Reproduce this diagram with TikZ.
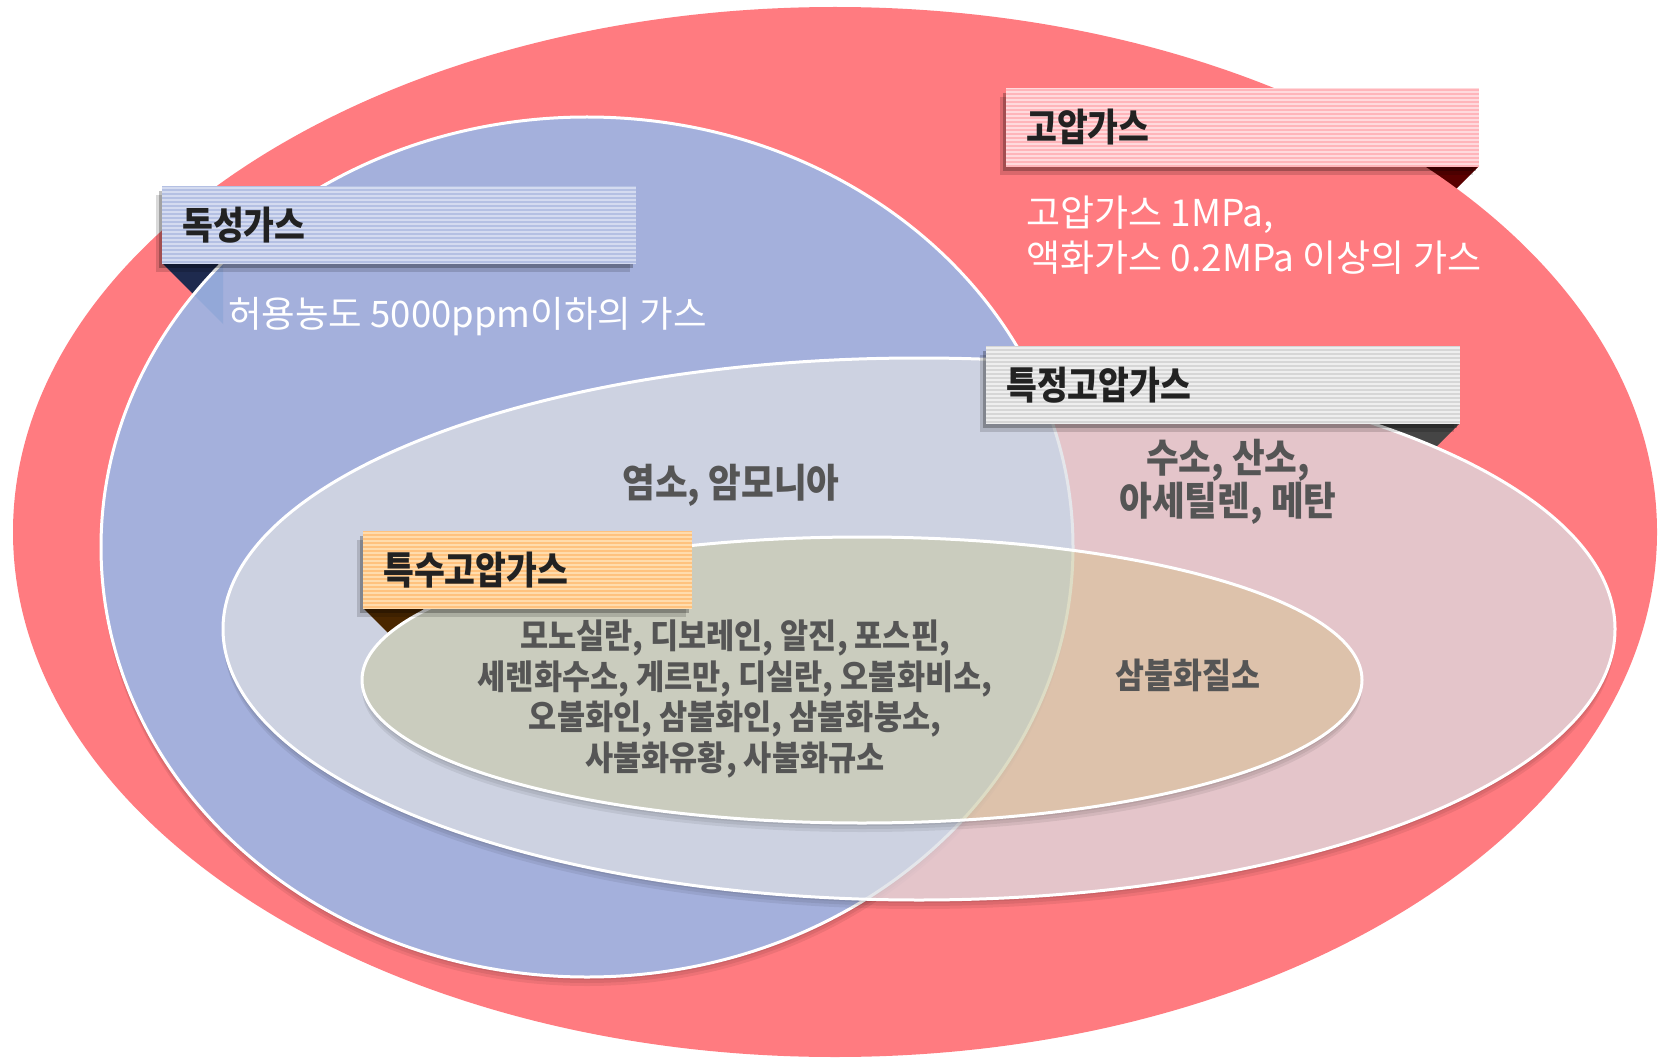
\documentclass[tikz,border=0pt]{standalone}
\usepackage{fontspec}
\setmainfont{Noto Sans CJK KR}
\newfontfamily\krn{Noto Sans CJK KR}[FakeStretch=0.9]
\newfontfamily\krl{Noto Sans CJK KR}[FakeStretch=0.87]
\usetikzlibrary{shadows}
\definecolor{redE}{HTML}{FF7B80}
\definecolor{blueE}{HTML}{A4B0DC}
\definecolor{grayE}{HTML}{DCDEE4}
\definecolor{oliveE}{HTML}{C1B732}
\definecolor{txtD}{HTML}{222222}
\definecolor{txtG}{HTML}{555555}
\definecolor{pinkA}{HTML}{FFDADD}
\definecolor{pinkB}{HTML}{FFB5BA}
\definecolor{bluA}{HTML}{B4C0E3}
\definecolor{bluB}{HTML}{D4DBF0}
\definecolor{gryA}{HTML}{D6D6D6}
\definecolor{gryB}{HTML}{EEEEEE}
\definecolor{orgA}{HTML}{FFC27E}
\definecolor{orgB}{HTML}{FFDCAD}
\definecolor{foldR}{HTML}{5A0000}
\definecolor{foldN}{HTML}{1E2A4E}
\definecolor{foldL}{HTML}{93A8D8}
\definecolor{foldG}{HTML}{454545}
\definecolor{foldO}{HTML}{4A2700}
\begin{document}
\begin{tikzpicture}[x=1pt,y=-1pt,
  rR/.style={x radius=822pt, y radius=525pt},
  rB/.style={x radius=486pt, y radius=430pt},
  rG/.style={x radius=696pt, y radius=271pt},
  rI/.style={x radius=500pt, y radius=143pt},
  ring/.style={draw=white, line width=3pt},
  shade/.style={fill=black, opacity=0.07},
  banner/.style n args={2}{rectangle, fill=#1, minimum height=77pt,
    inner xsep=20pt, inner ysep=0pt, align=left, text=txtD,
    font=\krl\bfseries\fontsize{38.5}{42}\selectfont,
    path picture={\foreach \k in {2,6,...,78}
      \draw[draw=#2, line width=1.6pt]
        ([yshift=-\k*1pt]path picture bounding box.north west) --
        ([yshift=-\k*1pt]path picture bounding box.north east);},
    drop shadow={shadow xshift=-3pt, shadow yshift=-5pt, opacity=0.25, fill=black},
    drop shadow={shadow xshift=-6pt, shadow yshift=-9pt, opacity=0.15, fill=black}},
  desc/.style={text=white, align=left, inner sep=0pt,
    font=\fontsize{37}{45}\selectfont},
  body/.style={text=txtG, align=center, inner sep=0pt}]
\useasboundingbox (0,0) rectangle (1665,1059);
\fill[white] (0,0) rectangle (1665,1059);
% centres and banner corners
\coordinate (cR) at (835,532);
\coordinate (cB) at (587,547);
\coordinate (cG) at (919,629);
\coordinate (cI) at (862,680);
\coordinate (gbNW) at (1006,88);
\coordinate (gbSE) at (1479,166);
\coordinate (dsNW) at (162,186);
\coordinate (dsSW) at (162,263);
\coordinate (tjNW) at (986,346);
\coordinate (tjSE) at (1460,423);
\coordinate (tsNW) at (363,531);
\coordinate (tsSW) at (363,608);
% high pressure gas (red)
\fill[foldR] (gbSE) -- ++(-60,0) -- ++(0,60) -- cycle;
\fill[redE] (cR) ellipse [rR];
% toxic gas (blue)
\fill[foldN] (dsSW) -- ++(61,0) -- ++(0,61) -- cycle;
\begin{scope}[even odd rule]
  \clip (-5,-5) rectangle (1670,1064) (cB) ellipse [rB];
  \foreach \s in {3,6,9} \fill[shade] ([yshift=-\s*1pt]cB) ellipse [rB];
\end{scope}
\fill[blueE] (cB) ellipse [rB];
\begin{scope}
  \clip (cB) ellipse [rB];
  \fill[foldL] (dsSW) -- ++(61,0) -- ++(0,61) -- cycle;
\end{scope}
\draw[ring] (cB) ellipse [rB];
% specific high pressure gas (grey)
\begin{scope}[even odd rule]
  \clip (-5,-5) rectangle (1670,1064) (cG) ellipse [rG];
  \fill[foldG] (tjSE) -- ++(-90,0) -- ++(0,90) -- cycle;
  \foreach \s in {3,6,9} \fill[shade] ([yshift=-\s*1pt]cG) ellipse [rG];
\end{scope}
\fill[grayE, fill opacity=0.75] (cG) ellipse [rG];
\draw[ring] (cG) ellipse [rG];
% special high pressure gas (inner)
\begin{scope}[even odd rule]
  \clip (-5,-5) rectangle (1670,1064) (cI) ellipse [rI];
  \fill[foldO] (tsSW) -- ++(60,0) -- ++(0,60) -- cycle;
  \foreach \s in {3,6,9} \fill[shade] ([yshift=-\s*1pt]cI) ellipse [rI];
\end{scope}
\fill[oliveE, fill opacity=0.2] (cI) ellipse [rI];
\draw[ring] (cI) ellipse [rI];
% banners
\node[banner={pinkA}{pinkB}, text width=433pt, minimum height=78pt, anchor=north west] (gb) at (gbNW) {고압가스};
\node[banner={bluA}{bluB}, text width=434pt, anchor=north west] (ds) at (dsNW) {독성가스};
\node[banner={gryA}{gryB}, text width=434pt, anchor=north west] (tj) at (tjNW) {특정고압가스};
\node[banner={orgA}{orgB}, text width=289pt, anchor=north west] (ts) at (tsNW) {특수고압가스};
% descriptions
\node[desc, anchor=west] (gbd) at (1026,235) {고압가스 1MPa,\\액화가스 0.2MPa 이상의 가스};
\node[desc, anchor=west, font=\fontsize{36.5}{45}\selectfont] (dsd) at (228,317) {허용농도 5000ppm이하의 가스};
\node[body, font=\krn\bfseries\fontsize{39.5}{43}\selectfont] (t1) at (731,485) {염소, 암모니아};
\node[body, font=\krn\bfseries\fontsize{39.5}{43}\selectfont] (t2) at (1228,482) {수소, 산소,\\아세틸렌, 메탄};
\node[body, font=\krn\bfseries\fontsize{34}{40.5}\selectfont] (t3) at (735,699)
  {모노실란, 디보레인, 알진, 포스핀,\\세렌화수소, 게르만, 디실란, 오불화비소,\\오불화인, 삼불화인, 삼불화붕소,\\사불화유황, 사불화규소};
\node[body, font=\krn\bfseries\fontsize{35}{40}\selectfont] (t4) at (1188,675) {삼불화질소};
\end{tikzpicture}
\end{document}
